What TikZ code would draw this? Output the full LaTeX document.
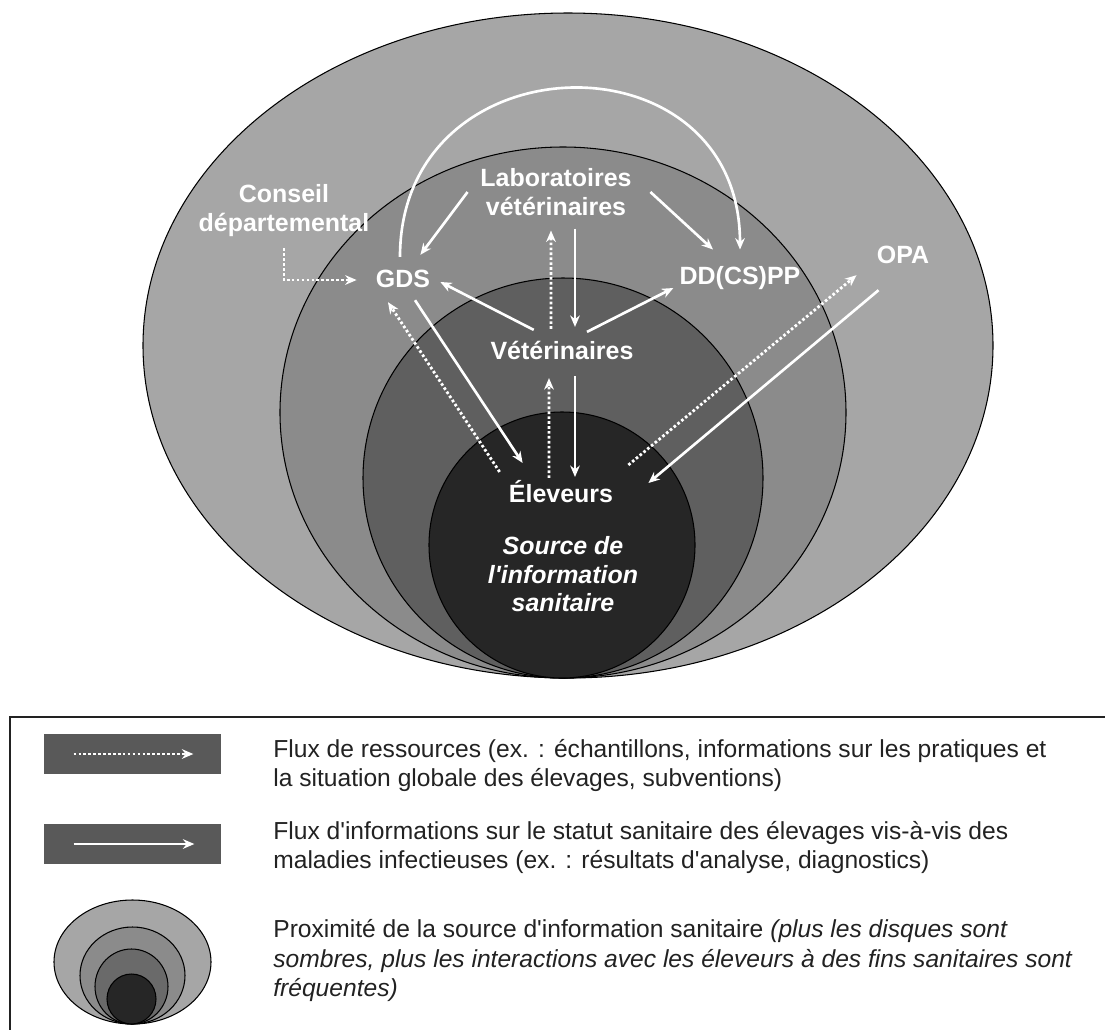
\documentclass[tikz,border=0pt]{standalone}
\usepackage{fontspec}
\setmainfont{Liberation Sans}
\usetikzlibrary{arrows.meta}
\definecolor{ringa}{HTML}{A6A6A6}
\definecolor{ringb}{HTML}{8B8B8B}
\definecolor{ringc}{HTML}{5F5F5F}
\definecolor{ringd}{HTML}{262626}
\definecolor{legc}{HTML}{6A6A6A}
\definecolor{legbg}{HTML}{595959}
\definecolor{legink}{HTML}{222222}
\begin{document}
\begin{tikzpicture}[x=2cm, y=2cm,
  lbl/.style={text=white, font=\fontsize{14.2}{16.5}\selectfont\bfseries, align=center, inner sep=0pt},
  ring/.style={draw=black, line width=0.6pt},
  infoflow/.style={white, line width=1.5pt, -{Stealth[length=6.5pt,width=5.5pt]}},
  resflow/.style={white, line width=1.6pt, dash pattern=on 1.5pt off 1.3pt, -{Stealth[length=6.5pt,width=5.5pt]}},
  legtext/.style={anchor=west, align=left, text=legink, font=\fontsize{14}{17}\selectfont, inner sep=0pt},
  legbox/.style={fill=legbg, minimum width=3.54cm, minimum height=0.8cm, inner sep=0pt}]
\useasboundingbox (0,0) rectangle (11.05,-10.30);
\draw[ring, fill=ringa] (5.68,-3.455) ellipse [x radius=4.25, y radius=3.325];
\draw[ring, fill=ringb] (5.63,-4.125) ellipse [x radius=2.83, y radius=2.655];
\draw[ring, fill=ringc] (5.63,-4.78) circle [radius=2.0];
\draw[ring, fill=ringd] (5.62,-5.45) circle [radius=1.33];
\node[lbl] (lab) at (5.56,-1.92) {Laboratoires\\vétérinaires};
\node[lbl] (conseil) at (2.84,-2.11) {Conseil\\départemental};
\node[lbl] (gds) at (4.03,-2.79) {GDS};
\node[lbl] (dd) at (7.40,-2.785) {DD(CS)PP};
\node[lbl] (opa) at (9.03,-2.55) {OPA};
\node[lbl] (vet) at (5.62,-3.50) {Vétérinaires};
\node[lbl] (elev) at (5.61,-4.92) {Éleveurs};
\node[lbl, font=\fontsize{14.2}{16.2}\selectfont\bfseries\itshape] (src) at (5.63,-5.745) {Source de\\l\textquotesingle{}information\\sanitaire};
\draw[infoflow] ([shift={(-0.03,0.13)}]gds.north) to[out=90,in=90,looseness=1.65] ([shift={(0,0.17)}]dd.north);
\draw[infoflow] ([shift={(-0.125,0)}]lab.west) -- ([shift={(-0.10,0.15)}]gds.north east);
\draw[infoflow] ([shift={(0.185,0)}]lab.east) -- ([shift={(-0.27,0.17)}]dd.north);
\draw[resflow] ([shift={(-0.11,0.115)}]vet.north) -- ([shift={(-0.05,-0.145)}]lab.south);
\draw[infoflow] ([shift={(0.19,-0.125)}]lab.south) -- ([shift={(0.13,0.135)}]vet.north);
\draw[infoflow] ([shift={(0.435,0.105)}]vet.north west) -- ([shift={(0.10,-0.03)}]gds.east);
\draw[infoflow] ([shift={(0.25,0.085)}]vet.north) -- ([shift={(-0.06,-0.095)}]dd.west);
\draw[resflow] ([shift={(0,-0.11)}]conseil.south) |- ([shift={(-0.19,-0.01)}]gds.west);
\draw[resflow] ([shift={(-0.09,0.085)}]elev.north west) -- ([shift={(-0.15,-0.14)}]gds.south);
\draw[infoflow] ([shift={(0.12,-0.12)}]gds.south) -- ([shift={(0.14,0.175)}]elev.north west);
\draw[infoflow] ([shift={(0.13,-0.165)}]vet.south) -- ([shift={(0.14,0.035)}]elev.north);
\draw[resflow] ([shift={(-0.12,0.025)}]elev.north) -- ([shift={(-0.13,-0.185)}]vet.south);
\draw[resflow] ([shift={(0.15,0.155)}]elev.north east) -- ([shift={(-0.20,-0.11)}]opa.south west);
\draw[infoflow] ([shift={(0.02,-0.26)}]opa.south west) -- ([shift={(0.35,0.09)}]elev.east);
\draw[line width=0.8pt, legink] (0.10,-7.17) rectangle (11.3,-10.5);
\node[legbox] (resbox) at (1.325,-7.54) {};
\draw[resflow] ([shift={(0.30,0)}]resbox.west) -- ([shift={(-0.28,0)}]resbox.east);
\node[legtext] (restext) at (2.73,-7.655) {Flux de ressources (ex. : échantillons, informations sur les pratiques et\\la situation globale des élevages, subventions)};
\node[legbox] (infobox) at (1.325,-8.44) {};
\draw[infoflow] ([shift={(0.30,0)}]infobox.west) -- ([shift={(-0.27,0)}]infobox.east);
\node[legtext] (infotext) at (2.73,-8.475) {Flux d\textquotesingle{}informations sur le statut sanitaire des élevages vis-à-vis des\\maladies infectieuses (ex. : résultats d\textquotesingle{}analyse, diagnostics)};
\draw[ring, fill=ringa] (1.325,-9.62) ellipse [x radius=0.785, y radius=0.62];
\draw[ring, fill=ringb] (1.325,-9.755) ellipse [x radius=0.525, y radius=0.485];
\draw[ring, fill=legc] (1.315,-9.865) ellipse [x radius=0.365, y radius=0.375];
\draw[ring, fill=ringd] (1.315,-9.99) ellipse [x radius=0.245, y radius=0.25];
\node[legtext] (proxtext) at (2.73,-9.605) {Proximité de la source d\textquotesingle{}information sanitaire \textit{(plus les disques sont}\\\textit{sombres, plus les interactions avec les éleveurs à des fins sanitaires sont}\\\textit{fréquentes)}};
\end{tikzpicture}
\end{document}
